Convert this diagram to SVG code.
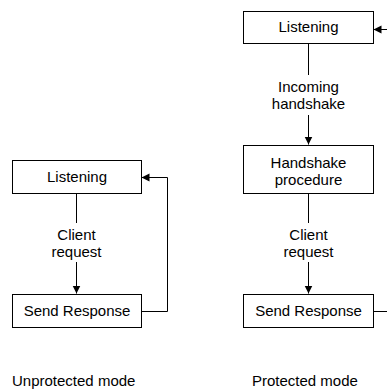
<svg xmlns="http://www.w3.org/2000/svg" width="387" height="392" viewBox="0 0 387 392">
  <style>
    .box { fill: #ffffff; stroke: #000000; stroke-width: 1; }
    .edge { fill: none; stroke: #000000; stroke-width: 1; }
    text { font-family: "Liberation Sans", Arial, sans-serif; font-size: 15px; fill: #000000; text-anchor: middle; }
    .caption { text-anchor: start; }
  </style>
  <defs>
    <marker id="arrow" viewBox="0 0 10 10" refX="10" refY="5" markerWidth="8" markerHeight="11" markerUnits="userSpaceOnUse" orient="auto">
      <path d="M0,0 L10,5 L0,10 Z" fill="#000000"/>
    </marker>
  </defs>
  <rect width="387" height="392" fill="#ffffff"/>

  <g id="connectors">
    <!-- unprotected mode -->
    <path class="edge" d="M76.5,193.5 V223"/>
    <path class="edge" d="M76.5,262 V293.5" marker-end="url(#arrow)"/>
    <path class="edge" d="M141.5,311.5 H167.5 V177.5 H141.5" marker-end="url(#arrow)"/>
    <!-- protected mode -->
    <path class="edge" d="M308.5,43.5 V75"/>
    <path class="edge" d="M308.5,115 V144.5" marker-end="url(#arrow)"/>
    <path class="edge" d="M308.5,193.5 V223"/>
    <path class="edge" d="M308.5,262 V293.5" marker-end="url(#arrow)"/>
    <path class="edge" d="M373.5,311.5 H395 V29.5 H373.5" marker-end="url(#arrow)"/>
    <text x="76.5" y="240">Client</text>
    <text x="76.5" y="257">request</text>
    <text x="308.5" y="92">Incoming</text>
    <text x="308.5" y="109">handshake</text>
    <text x="308.5" y="240">Client</text>
    <text x="308.5" y="257">request</text>
  </g>

  <g id="u-listening">
    <rect class="box" x="12.5" y="160.5" width="129" height="33"/>
    <text x="77" y="182">Listening</text>
  </g>
  <g id="u-send-response">
    <rect class="box" x="12.5" y="294.5" width="129" height="33"/>
    <text x="77" y="316">Send Response</text>
  </g>

  <g id="p-listening">
    <rect class="box" x="243.5" y="11.5" width="130" height="32"/>
    <text x="308.5" y="32">Listening</text>
  </g>
  <g id="p-handshake">
    <rect class="box" x="243.5" y="145.5" width="130" height="48"/>
    <text x="308.5" y="168">Handshake</text>
    <text x="308.5" y="185">procedure</text>
  </g>
  <g id="p-send-response">
    <rect class="box" x="243.5" y="294.5" width="130" height="33"/>
    <text x="308.5" y="316">Send Response</text>
  </g>

  <text class="caption" x="12" y="386">Unprotected mode</text>
  <text class="caption" x="252" y="386">Protected mode</text>
</svg>
